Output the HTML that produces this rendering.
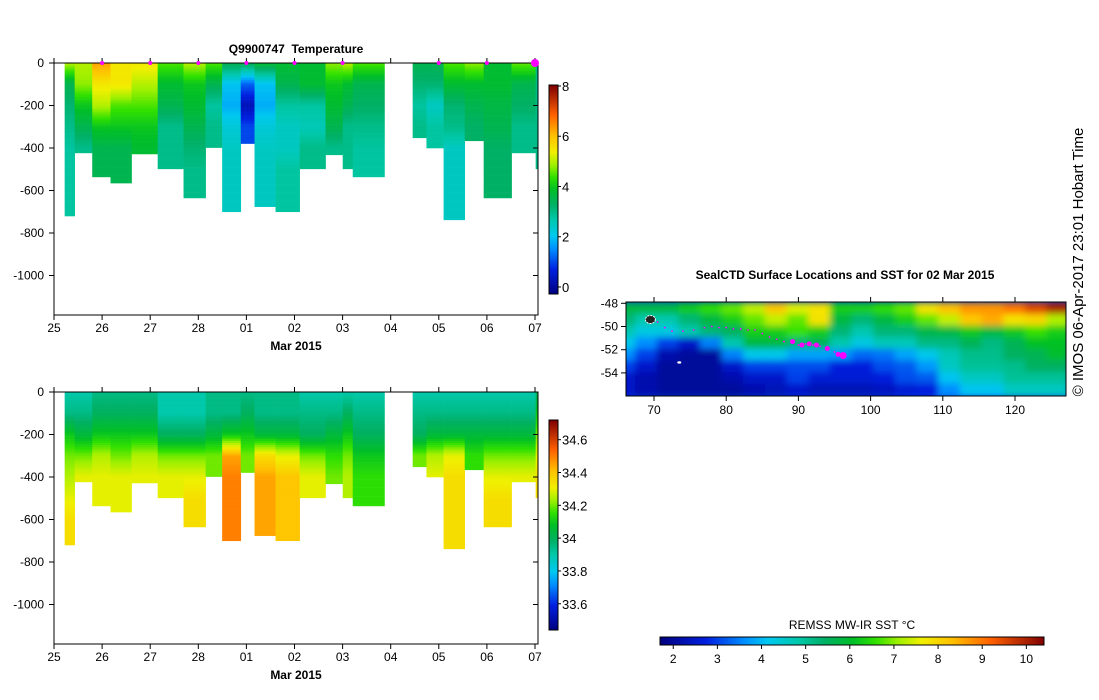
<!DOCTYPE html>
<html><head><meta charset="utf-8">
<style>
body{margin:0;background:#fff;}
svg{display:block;font-family:"Liberation Sans",sans-serif;}
.t{font-size:12px;fill:#000;}
.b{font-size:12px;font-weight:bold;fill:#000;}
</style></head>
<body>
<svg id="root" width="1099" height="700" viewBox="0 0 1099 700">
<defs>
<clipPath id="mapclip"><rect x="626" y="302" width="440" height="94"/></clipPath>
<filter id="blur" x="-5%" y="-5%" width="110%" height="110%"><feGaussianBlur stdDeviation="3.5"/></filter>
</defs>
<g id="g1"></g>
<g id="g2"></g>
<g id="g3"></g>
<text x="1083" y="262" transform="rotate(-90 1083 262)" text-anchor="middle" style="font-size:15px">© IMOS 06-Apr-2017 23:01 Hobart Time</text>
</svg>
<script>
// ---- profile data (day offsets from 25 Feb) ----
const colStart=[0.222,0.43,0.795,1.175,1.612,2.156,2.693,3.152,3.496,3.883,4.169,4.606,5.107,5.645,6.003,6.211,7.457,7.743,8.1,8.539,8.933,9.513,10.014];
const colEnd=[0.43,0.795,1.175,1.612,2.156,2.693,3.152,3.496,3.883,4.169,4.606,5.107,5.645,6.003,6.211,6.87,7.743,8.1,8.539,8.933,9.513,10.014,10.057];
const colDepth=[720,423,536,565,428,498,635,398,700,379,676,700,498,432,498,536,352,400,738,366,635,423,498];
const tempLevels=[
[5,3.5,3.2,3,2.8,2.8,2.8,2.8],[5,4.8,4,3.5,3],[6.3,5.5,5,4,3.5,3.5],[5.5,5.5,4.5,4,3.5,3.5],[5.5,5,4.5,4,3.8],
[4.5,3.8,3.5,3,3],[5,4,3.8,3.5,3.2,3,3],[4.5,3.5,2.8,3],[3.5,2,1.8,2.3,2.5,2.5,2.5,2.5],[3.5,1.2,0.3,1.0],
[3.8,2,1.8,2.3,2.5,2.5,2.5],[3.8,3.5,2.8,2.5,2.5,2.8,2.8,2.8],[3.8,3.8,2.8,2.6,3],[4.8,4,3.8,3.5,3],[5,3.8,3.5,3,3],
[4.5,3.5,3.3,3,2.8,2.8],[3.5,3.2,2.8,3],[3.5,3.2,2.5,2.8,2.8],[4.5,3.8,3.2,3,2.5,2.5,2.5,2.5],[4.8,3.8,3.5,3.3],
[3.8,3.8,3.6,3.5,3.3,3.3,3.3],[4.6,3.5,3.3,3,3],[3,3,3,3,3]];
const salLevels=[
[33.9,33.95,34.1,34.2,34.25,34.3,34.35,34.35],[33.9,33.95,34.05,34.2,34.3],[33.95,34.0,34.1,34.25,34.3,34.3],[33.95,34.0,34.1,34.2,34.3,34.3],[33.95,34.0,34.1,34.25,34.3],
[33.9,33.9,34.0,34.2,34.3],[33.9,33.9,34.0,34.2,34.3,34.35,34.35],[33.95,33.95,34.05,34.2],[33.95,33.95,34.1,34.45,34.5,34.5,34.5,34.5],[33.95,34.0,34.1,34.2],
[33.95,33.95,34.05,34.35,34.45,34.45,34.45],[33.95,33.95,34.05,34.3,34.4,34.4,34.4,34.4],[33.9,33.95,34.0,34.2,34.3],[33.9,33.95,34.05,34.15,34.2],[33.9,34.0,34.1,34.2,34.25],
[33.9,33.95,34.0,34.1,34.15,34.15],[33.9,33.95,34.0,34.2],[33.9,33.95,34.05,34.25,34.3],[33.9,33.95,34.05,34.3,34.35,34.35,34.35,34.35],[33.9,33.95,34.05,34.15],
[33.9,33.95,34.05,34.2,34.3,34.35,34.35],[33.9,33.95,34.05,34.2,34.3],[34.0,34.1,34.2,34.3,34.35]];
const surfaceDays=[1,2,3,4,5,6,8,9];
const lastSurfaceDay=10;
const dayLabels=["25","26","27","28","01","02","03","04","05","06","07"];
const depthTicks=[0,-200,-400,-600,-800,-1000];
const tempTicks=[0,2,4,6,8];
const salTicks=[33.6,33.8,34,34.2,34.4,34.6];
// ---- SST map data ----
const mapLons=[66,69,72,75,78,81,84,87,90,93,96,99,102,105,108,111,114,117,120,123,126];
const mapLats=[-48.5,-49.5,-50.5,-51.5,-52.5,-53.5,-54.5,-55.5];
const sstGrid=[
[5.8,5.8,5.8,6.2,6.5,6.8,7.3,8.2,7.5,7.8,6.3,6.3,6.5,6.8,7.8,8.3,8.7,8.7,9,9.5,10],
[5.3,4.8,4.8,5.3,5.8,6.3,6.8,7.3,6.8,7.8,5.8,5.3,5.8,6.3,6.8,7.3,8.2,8.5,7.8,8,7.2],
[4.8,4.3,4.3,4.8,5.3,5.5,6.3,6.3,6.6,6.3,5.3,4.8,5.3,5.3,5.7,5.8,6.2,5.8,6.2,6.6,6.3],
[4.2,3.6,3,2.5,3.5,4.8,5.8,5.8,5.3,5.6,4.8,4.3,4.7,4.7,5.2,5.2,5.6,5.2,5.6,6.1,6.1],
[3.6,3,2.2,2,2,3.5,4.2,4.2,3.8,3.8,3.7,3.3,3.4,3.8,4.2,4.7,5.1,5.1,5.5,5.6,6],
[3,2.5,2,2,2,2.5,3,3,3.1,3.1,2.7,2.7,3.1,3.2,3.7,4.6,5,5,5.1,5.5,5.5],
[2.5,2.2,2,2,2,2.2,2.5,2.5,3,2.6,2.6,2.6,2.7,3.1,3.2,4.1,4.6,4.6,5,5,5],
[2.5,2.2,2,2,2,2,2.2,2.3,2.5,2.3,2.3,2.3,2.4,2.6,2.7,3.6,4.1,4.1,4.6,4.6,4.6]];
const trackLon=[70.5,71.5,72.5,74,75.5,77,78,79,80,81,82,83,84,85,86,87,88,89,90,91,92,93,94,95,95.5,96.2];
const trackLat=[-49.6,-50.1,-50.4,-50.4,-50.3,-50.1,-50,-50.1,-50.1,-50.2,-50.2,-50.3,-50.3,-50.6,-50.9,-51.1,-51.3,-51.4,-51.6,-51.5,-51.6,-51.7,-51.9,-52.2,-52.4,-52.5];
const bigLon=[89.2,90.5,91.5,92.5,94,95.5,96.2];
const bigLat=[-51.3,-51.6,-51.5,-51.6,-51.9,-52.4,-52.5];
const mapLonTicks=[70,80,90,100,110,120];
const mapLatTicks=[-48,-50,-52,-54];
const sstTicks=[2,3,4,5,6,7,8,9,10];

const NS="http://www.w3.org/2000/svg";
function el(tag,attrs,parent,txt){const e=document.createElementNS(NS,tag);for(const k in attrs)e.setAttribute(k,attrs[k]);if(txt!==undefined)e.textContent=txt;parent.appendChild(e);return e;}
const stops=[[0,[0,0,127]],[0.12,[0,32,224]],[0.22,[0,144,255]],[0.28,[0,200,240]],[0.36,[0,200,170]],[0.43,[0,176,100]],[0.5,[0,190,40]],[0.56,[48,224,0]],[0.62,[160,240,0]],[0.68,[240,240,0]],[0.76,[255,192,0]],[0.86,[255,96,0]],[1,[128,0,0]]];
function cmap(f){f=Math.max(0,Math.min(1,f));for(let i=1;i<stops.length;i++){if(f<=stops[i][0]){const a=stops[i-1],b=stops[i];const t=(f-a[0])/(b[0]-a[0]);const c=a[1].map((v,j)=>Math.round(v+(b[1][j]-v)*t));return `rgb(${c[0]},${c[1]},${c[2]})`;}}return 'rgb(128,0,0)';}

function panel(g,y0,levels,vmin,vmax,ticks,cbTop,cbBot,tickFmt,withTitle,withMarkers){
  const xL=54,xR=538,yB=y0+252;
  const xS=d=>xL+48.1*d, yS=m=>y0+m*0.2125;
  for(let i=0;i<colStart.length;i++){
    const lv=levels[i];const maxD=colDepth[i];
    for(let d=0;d<maxD;d+=10){
      const p=Math.min((d+5)/100,lv.length-1);const k=Math.floor(p);const t=p-k;
      const v=k+1<lv.length?lv[k]+(lv[k+1]-lv[k])*t:lv[k];
      const r=el('rect',{x:xS(colStart[i]),y:yS(d),width:xS(colEnd[i])-xS(colStart[i])+0.3,height:yS(Math.min(d+10,maxD))-yS(d)+0.3,fill:cmap((v-vmin)/(vmax-vmin))},g);
      
      
    }
  }
  const box=el('rect',{x:xL,y:y0,width:xR-xL,height:yB-y0,fill:'none',stroke:'#000','stroke-width':1},g);
  
  dayLabels.forEach((l,i)=>{const x=xS(i);
    el('line',{x1:x,y1:yB,x2:x,y2:yB+5,stroke:'#000'},g);
    el('line',{x1:x,y1:y0,x2:x,y2:y0-5,stroke:'#000'},g);
    const t=el('text',{x:x,y:yB+17,'text-anchor':'middle',class:'t'},g,l);
    });
  depthTicks.forEach(v=>{const y=yS(-v);
    el('line',{x1:xL-5,y1:y,x2:xL,y2:y,stroke:'#000'},g);
    el('line',{x1:xR-5,y1:y,x2:xR,y2:y,stroke:'#000'},g);
    const t=el('text',{x:xL-10,y:y+4,'text-anchor':'end',class:'t'},g,v);
    });
  const xt=el('text',{x:296,y:yB+35,'text-anchor':'middle',class:'b'},g,'Mar 2015');
  
  if(withTitle){const tt=el('text',{x:296,y:y0-10,'text-anchor':'middle',class:'b'},g,'Q9900747\u00a0 Temperature');
    }
  if(withMarkers){surfaceDays.forEach(d=>{const c=el('circle',{cx:xS(d),cy:y0,r:2,fill:'#ff00ff'},g);
      });
    const c=el('circle',{cx:xS(lastSurfaceDay),cy:y0,r:4,fill:'#ff00ff'},g);
    }
  const cbx=549,cbw=9;
  for(let y=cbTop;y<cbBot;y+=1){const f=1-(y-cbTop)/(cbBot-cbTop);el('rect',{x:cbx,y:y,width:cbw,height:1.2,fill:cmap(f)},g);}
  const cb=el('rect',{x:cbx,y:cbTop,width:cbw,height:cbBot-cbTop,fill:'none',stroke:'#000'},g);
  
  ticks.forEach(v=>{const y=cbBot-(v-vmin)/(vmax-vmin)*(cbBot-cbTop);
    el('line',{x1:cbx+cbw,y1:y,x2:cbx+cbw+3,y2:y,stroke:'#000'},g);
    const t=el('text',{x:cbx+cbw+4,y:y+5,class:'t',style:'font-size:13px'},g,tickFmt(v));
    });
}
panel(document.getElementById('g1'),63,tempLevels,-0.28,8.04,tempTicks,85,294,v=>v,true,true);
panel(document.getElementById('g2'),392,salLevels,33.44,34.72,salTicks,420,630,v=>String(v),false,false);

// ---- map ----
const g3=document.getElementById('g3');
const mx=l=>654+(l-70)*7.22, my=l=>303.3+(-48-l)*11.6;
const mt=el('text',{x:845,y:279,'text-anchor':'middle',class:'b'},g3,'SealCTD Surface Locations and SST for 02 Mar 2015');

const cg=el('g',{'clip-path':'url(#mapclip)'},g3);
el('rect',{x:626,y:302,width:440,height:94,fill:cmap((3-1.7)/8.7)},cg);
const hg=el('g',{filter:'url(#blur)'},cg);
sstGrid.forEach((row,r)=>row.forEach((v,c)=>{
  const cell=el('rect',{x:mx(mapLons[c]-1.5)-1,y:my(mapLats[r]+0.5)-1,width:3*7.22+2,height:11.6+2,fill:cmap((v-1.7)/8.7)},hg);
  }));
const k1=el('ellipse',{cx:mx(69.5),cy:my(-49.4),rx:5,ry:4,fill:'#222',stroke:'#fff','stroke-width':1,'stroke-dasharray':'2 1'},cg);

const k2=el('ellipse',{cx:mx(73.5),cy:my(-53.1),rx:2,ry:1.2,fill:'#fff'},cg);

trackLon.forEach((l,i)=>{const c=el('circle',{cx:mx(l),cy:my(trackLat[i]),r:0.9,fill:'#ff00ff'},cg);
  });
bigLon.forEach((l,i)=>{const c=el('circle',{cx:mx(l),cy:my(bigLat[i]),r:i===bigLon.length-1?3.5:2.5,fill:'#ff00ff'},cg);
  });
const mf=el('rect',{x:626,y:302,width:440,height:94,fill:'none',stroke:'#000'},g3);

mapLonTicks.forEach(v=>{const x=mx(v);el('line',{x1:x,y1:396,x2:x,y2:401,stroke:'#000'},g3);el('line',{x1:x,y1:302,x2:x,y2:297,stroke:'#000'},g3);
  const t=el('text',{x:x,y:414,'text-anchor':'middle',class:'t'},g3,v);});
mapLatTicks.forEach(v=>{const y=my(v);el('line',{x1:621,y1:y,x2:626,y2:y,stroke:'#000'},g3);
  const t=el('text',{x:618,y:y+4,'text-anchor':'end',class:'t'},g3,v);});
for(let x=660;x<1044;x++){el('rect',{x:x,y:637,width:1.2,height:8,fill:cmap((x-660)/384)},g3);}
const sb=el('rect',{x:660,y:637,width:384,height:8,fill:'none',stroke:'#000'},g3);

const sl=el('text',{x:852,y:629,'text-anchor':'middle',class:'t'},g3,'REMSS MW-IR SST °C');

sstTicks.forEach(v=>{const x=660+(v-1.7)/8.7*384;el('line',{x1:x,y1:645,x2:x,y2:649,stroke:'#000'},g3);
  const t=el('text',{x:x,y:663,'text-anchor':'middle',class:'t'},g3,v);});
</script>
</body></html>
